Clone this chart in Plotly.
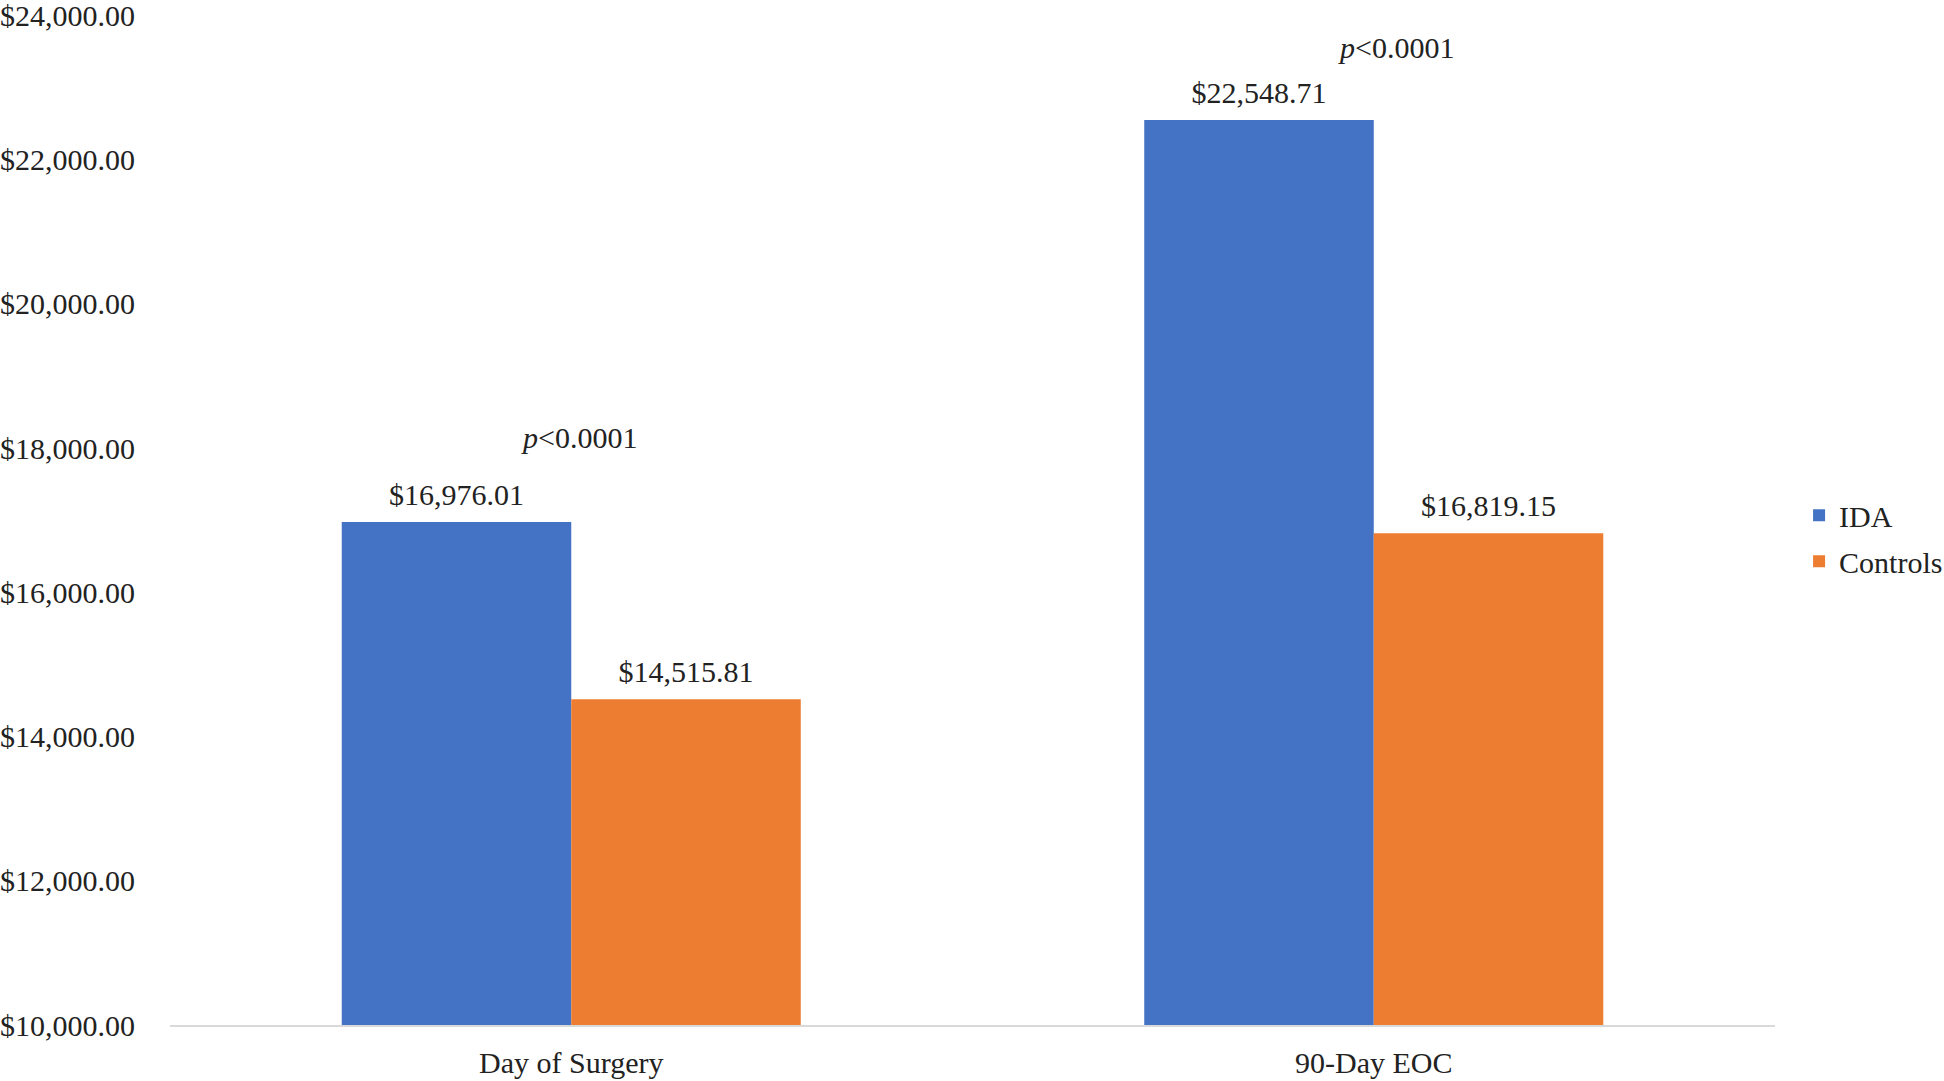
import plotly.graph_objects as go

categories = ["Day of Surgery", "90-Day EOC"]
ida_values = [16976.01, 22548.71]
control_values = [14515.81, 16819.15]
series_names = ["IDA", "Controls"]
p_labels = ["<i>p</i><0.0001", "<i>p</i><0.0001"]
p_label_y = [18140, 23560]
tick_values = [10000, 12000, 14000, 16000, 18000, 20000, 22000, 24000]

FONT = "Liberation Serif"
FS = 30
TXT = "#222222"
BLUE = "#4472C4"
ORANGE = "#ED7D31"
GAP = 0.428

fig = go.Figure()
for vals, name, col, grp in [(ida_values, series_names[0], BLUE, "a"),
                             (control_values, series_names[1], ORANGE, "b")]:
    fig.add_trace(go.Bar(
        x=categories, y=vals, name=name, marker_color=col,
        marker_line_width=0, legendgroup=grp, hoverinfo="x+y",
    ))
# value labels, aligned with the grouped bars via scattermode="group"
for vals, grp in [(ida_values, "a"), (control_values, "b")]:
    fig.add_trace(go.Scatter(
        x=categories, y=vals, mode="markers+text",
        marker=dict(size=14, color="rgba(0,0,0,0)"),
        texttemplate="%{y:$,.2f}", textposition="top center",
        textfont=dict(family=FONT, size=FS, color=TXT),
        showlegend=False, hoverinfo="skip", cliponaxis=False, legendgroup=grp,
    ))

p_xshift = [8, 22]
for cat, lab, yy, xs in zip(categories, p_labels, p_label_y, p_xshift):
    fig.add_annotation(x=cat, y=yy, text=lab, showarrow=False, xshift=xs,
                       font=dict(family=FONT, size=FS, color=TXT))

fig.update_layout(
    width=1944, height=1081,
    paper_bgcolor="white", plot_bgcolor="white",
    margin=dict(l=170, r=169, t=15, b=56, autoexpand=False),
    barmode="group", bargap=GAP, bargroupgap=0,
    scattermode="group", scattergap=GAP,
    font=dict(family=FONT, size=FS, color=TXT),
    legend=dict(x=1.0150, xanchor="left", y=0.482, yanchor="middle",
                font=dict(family=FONT, size=FS, color=TXT),
                tracegroupgap=4, traceorder="grouped",
                bgcolor="rgba(0,0,0,0)"),
    showlegend=True,
)
fig.update_yaxes(range=[10000, 24005], tickvals=tick_values, tickformat="$,.2f",
                 showgrid=False, zeroline=False, showline=False, automargin=False,
                 ticklabelstandoff=34, ticklabeloverflow="allow",
                 tickfont=dict(family=FONT, size=FS, color=TXT))
fig.update_xaxes(showgrid=False, showline=True, linecolor="#d9d9d9", linewidth=2,
                 automargin=False, ticklabelstandoff=10, ticklabeloverflow="allow",
                 tickfont=dict(family=FONT, size=FS, color=TXT))

fig.write_html("out.html", config={"displayModeBar": False},
               post_script="document.body.style.margin='0';document.body.style.overflow='hidden';")
